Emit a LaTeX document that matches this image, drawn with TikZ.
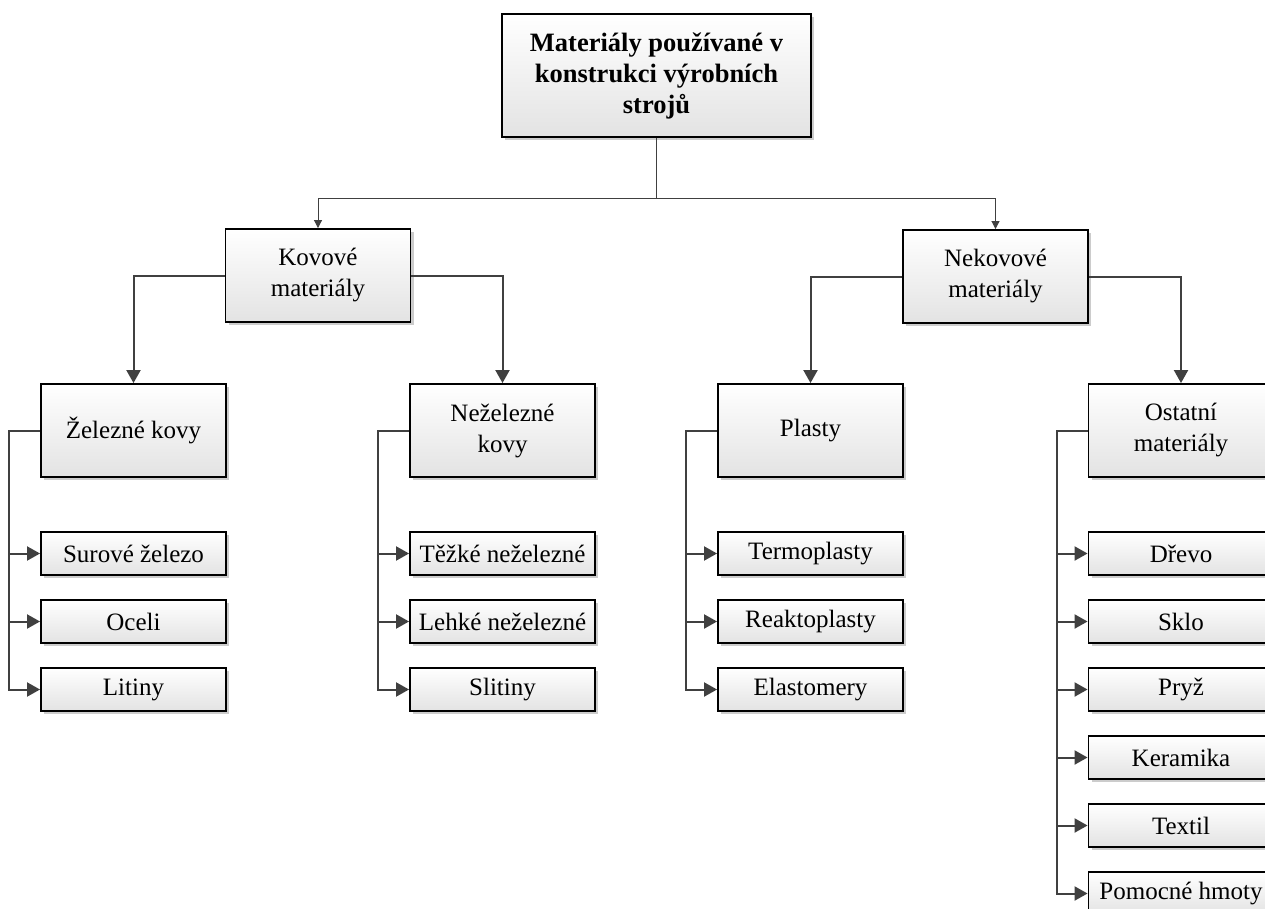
\documentclass[tikz,border=0pt]{standalone}
\usepackage{fontspec}
\setmainfont{Liberation Serif}
\usetikzlibrary{arrows.meta,shadows}
\definecolor{conn}{HTML}{404040}
\tikzset{
  box/.style={draw=black, line width=1.9pt, top color=white, bottom color=black!11,
    align=center, inner sep=0pt, minimum width=185pt, minimum height=93pt,
    font=\fontsize{25}{31}\selectfont,
    drop shadow={shadow xshift=3pt, shadow yshift=-3pt, fill=black!20, opacity=1}},
  topbox/.style={box, minimum width=309pt, minimum height=123pt,
    font=\fontsize{26.5}{31}\selectfont\bfseries},
  leaf/.style={box, minimum height=43pt},
  arr/.style={draw=conn, line width=2pt, -{Triangle[length=13pt,width=14pt]}},
  thinarr/.style={draw=conn, line width=1pt, -{Triangle[length=8pt,width=8pt]}},
}
\begin{document}
\begin{tikzpicture}[x=1pt,y=-1pt]
\useasboundingbox (0,0) rectangle (1265,909);
\clip (0,0) rectangle (1265,909);
\fill[white] (0,0) rectangle (1265,909);

% root and first level
\node[topbox] (root) at (656.5,75.5) {Materiály používané v\\konstrukci výrobních\\strojů};
\node[box] (kov) at (318,275.5) {Kovové\\materiály};
\node[box] (nekov) at (995.5,276.5) {Nekovové\\materiály};

% second level
\node[box] (zel) at (133.5,430.5) {Železné kovy};
\node[box] (nezel) at (502.5,430.5) {Neželezné\\kovy};
\node[box] (plast) at (810.5,430.5) {Plasty};
\node[box] (ost) at (1181,430.5) {Ostatní\\materiály};

% leaves
\node[leaf] (z1) at (133.5,553.5) {Surové železo};
\node[leaf] (z2) at (133.5,621.5) {Oceli};
\node[leaf] (z3) at (133.5,689.5) {Litiny};

\node[leaf] (n1) at (502.5,553.5) {Těžké neželezné};
\node[leaf] (n2) at (502.5,621.5) {Lehké neželezné};
\node[leaf] (n3) at (502.5,689.5) {Slitiny};

\node[leaf] (p1) at (810.5,553.5) {Termoplasty};
\node[leaf] (p2) at (810.5,621.5) {Reaktoplasty};
\node[leaf] (p3) at (810.5,689.5) {Elastomery};

\node[leaf] (o1) at (1181,553.5) {Dřevo};
\node[leaf] (o2) at (1181,621.5) {Sklo};
\node[leaf] (o3) at (1181,689.5) {Pryž};
\node[leaf] (o4) at (1181,757.5) {Keramika};
\node[leaf] (o5) at (1181,825.5) {Textil};
\node[leaf] (o6) at (1181,893.5) {Pomocné hmoty};

% connectors from the root
\coordinate (rj) at (656.5,199);
\draw[draw=conn, line width=1pt] (root.south) -- (rj);
\draw[thinarr] (rj) -| (kov.north);
\draw[thinarr] (rj) -| (nekov.north);

% first level to second level
\draw[arr] (kov.west) -| (zel.north);
\draw[arr] (kov.east) -| (nezel.north);
\draw[arr] (nekov.west) -| (plast.north);
\draw[arr] (nekov.east) -| (ost.north);

% side brackets to leaves
\foreach \p/\c in {zel/z1,zel/z2,zel/z3,nezel/n1,nezel/n2,nezel/n3,
                   plast/p1,plast/p2,plast/p3,
                   ost/o1,ost/o2,ost/o3,ost/o4,ost/o5,ost/o6}
  \draw[arr] (\p.west) -- ++(-31,0) |- (\c.west);
\end{tikzpicture}
\end{document}
